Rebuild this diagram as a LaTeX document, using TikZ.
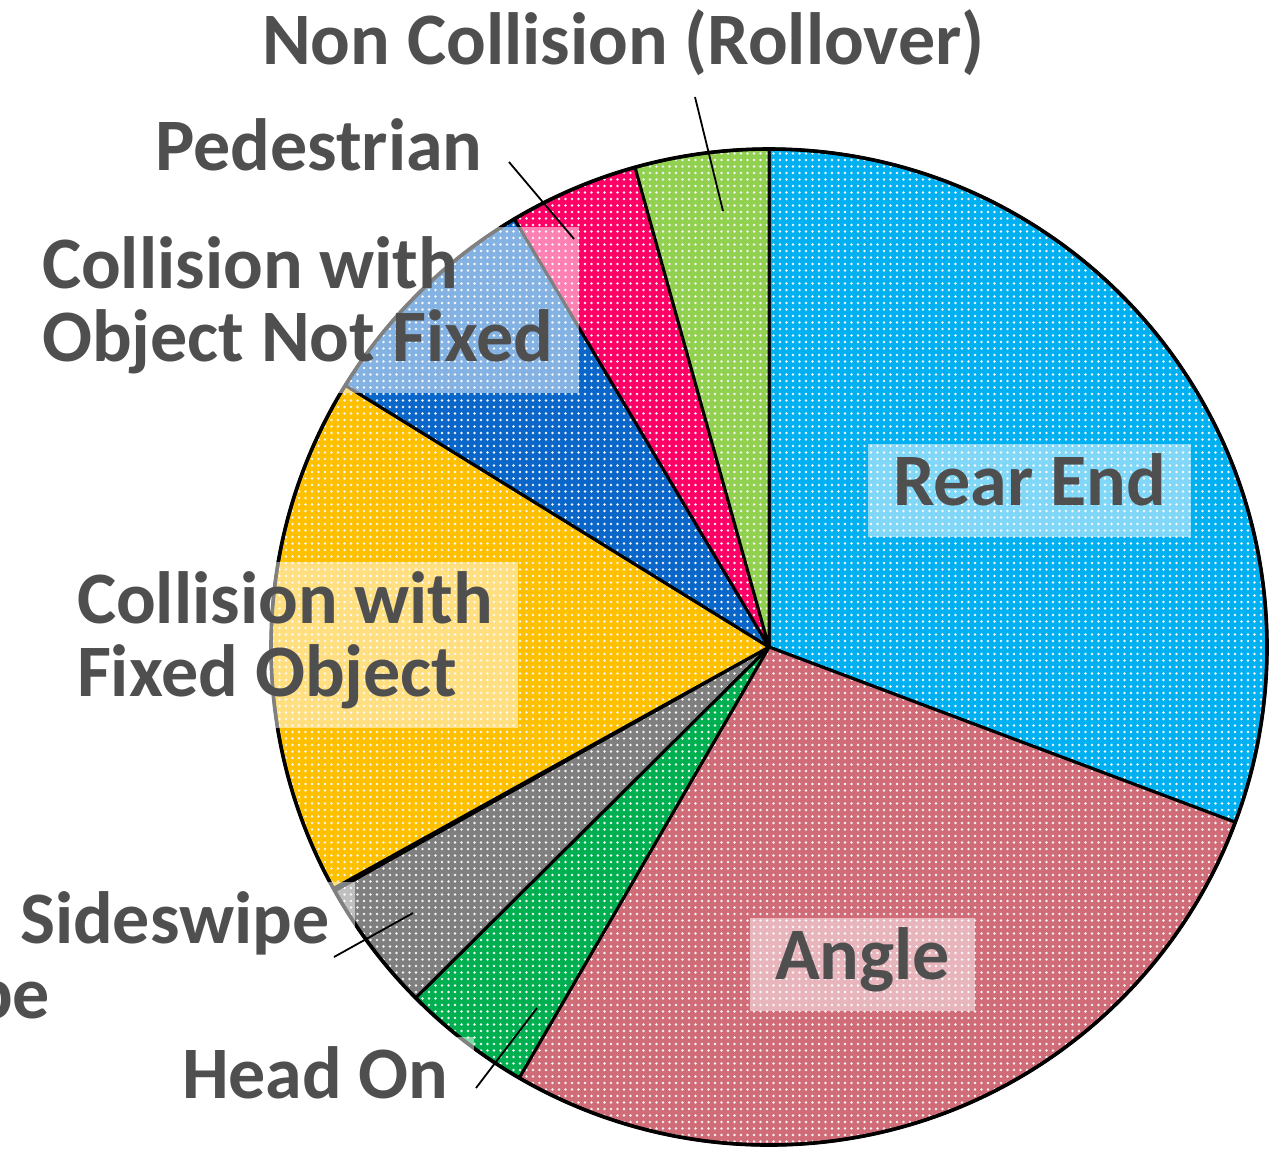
\documentclass[tikz,border=0pt]{standalone}
\usepackage{fontspec}
\newfontfamily\lblfont{Carlito}
\usetikzlibrary{patterns}

% fine white dot texture laid over every slice
\pgfdeclarepatternformonly{finedots}{\pgfqpoint{-1pt}{-1pt}}{\pgfqpoint{1pt}{1pt}}{\pgfqpoint{3.25pt}{3.25pt}}{%
  \pgfpathcircle{\pgfpointorigin}{0.68pt}\pgfusepath{fill}}

\definecolor{rearC}{HTML}{00B0F0}
\definecolor{angleC}{HTML}{D06C78}
\definecolor{headC}{HTML}{00B050}
\definecolor{sideC}{HTML}{7F7F7F}
\definecolor{oppC}{HTML}{303030}
\definecolor{fixedC}{HTML}{FFC000}
\definecolor{looseC}{HTML}{0A66C8}
\definecolor{pedC}{HTML}{FF0066}
\definecolor{rollC}{HTML}{92D050}
\definecolor{txtC}{HTML}{4F4F4F}

\newcommand\lbltext[1]{\begin{tabular}{@{}l@{}}#1\end{tabular}}

\begin{document}
\begin{tikzpicture}[x=0.5pt,y=-0.5pt,
  slice/.style={preaction={fill=#1}, pattern=finedots, pattern color=white!92!gray,
                draw=black, line width=1.5pt, line join=round},
  lbl/.style={fill=white, fill opacity=0.5, text opacity=1, text=txtC,
              inner xsep=12.5pt, inner ysep=5pt, outer sep=0pt,
              font=\lblfont\bfseries\fontsize{37}{35}\selectfont,
              anchor=north west},
  leader/.style={draw=black, line width=0.9pt}]
\useasboundingbox (0,0) rectangle (1284,1148);
\clip (0,0) rectangle (1284,1148);

% pie, angles counted counter-clockwise from the x axis
\begin{scope}[shift={(769,647)}, y=0.5pt]
  \path[slice=rearC]  (0,0) -- (90:498)     arc[start angle=90,     end angle=-20.6,  radius=498] -- cycle;
  \path[slice=angleC] (0,0) -- (-20.6:498)  arc[start angle=-20.6,  end angle=-120.1, radius=498] -- cycle;
  \path[slice=headC]  (0,0) -- (-120.1:498) arc[start angle=-120.1, end angle=-135.2, radius=498] -- cycle;
  \path[slice=sideC]  (0,0) -- (-135.2:498) arc[start angle=-135.2, end angle=-150.7, radius=498] -- cycle;
  \path[slice=oppC]   (0,0) -- (-150.7:498) arc[start angle=-150.7, end angle=-151.0, radius=498] -- cycle;
  \path[slice=fixedC] (0,0) -- (-151.0:498) arc[start angle=-151.0, end angle=-211.7, radius=498] -- cycle;
  \path[slice=looseC] (0,0) -- (-211.7:498) arc[start angle=-211.7, end angle=-239.25,radius=498] -- cycle;
  \path[slice=pedC]   (0,0) -- (-239.25:498)arc[start angle=-239.25,end angle=-254.4, radius=498] -- cycle;
  \path[slice=rollC]  (0,0) -- (-254.4:498) arc[start angle=-254.4, end angle=-270,   radius=498] -- cycle;
  \draw[line width=1.8pt] (0,0) circle[radius=498];
\end{scope}

% data labels
\node[lbl] (lRear)  at (868,444)  {\lbltext{Rear End}};
\node[lbl] (lAngle) at (750,918)  {\lbltext{Angle}};
\node[lbl] (lFixed) at (52,562)   {\lbltext{Collision with\\Fixed Object}};
\node[lbl] (lLoose) at (17,227)   {\lbltext{Collision with\\Object Not Fixed}};
\node[lbl] (lPed)   at (130,109)  {\lbltext{Pedestrian}};
\node[lbl] (lRoll)  at (237,0)    {\lbltext{Non Collision (Rollover)}};
\node[lbl] (lSide)  at (-5,882)   {\lbltext{Sideswipe}};
\node[lbl] (lHead)  at (157,1037) {\lbltext{Head On}};
\node[lbl, anchor=north east] (lOpp) at (75,959) {\lbltext{pe}};

% leader lines
\coordinate (rollA) at (695,97);   \coordinate (rollB) at (723,211);
\coordinate (pedA)  at (509,162);  \coordinate (pedB)  at (574,239);
\coordinate (sideA) at (334,957);  \coordinate (sideB) at (413,913);
\coordinate (headA) at (476,1088); \coordinate (headB) at (537,1008);
\draw[leader] (rollA) -- (rollB);
\draw[leader] (pedA) -- (pedB);
\draw[leader] (sideA) -- (sideB);
\draw[leader] (headA) -- (headB);
\end{tikzpicture}
\end{document}
